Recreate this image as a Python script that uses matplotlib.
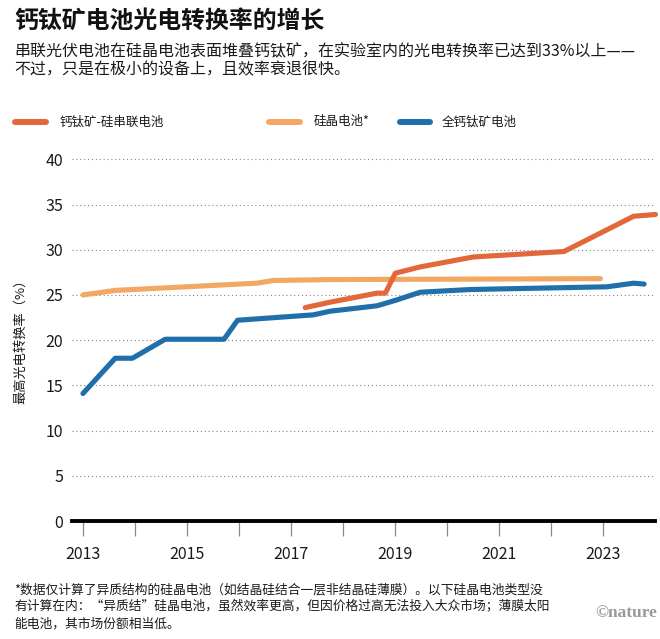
import matplotlib
matplotlib.use("Agg")
import matplotlib.pyplot as plt
from matplotlib.lines import Line2D

plt.rcParams['font.family'] = ['Noto Sans CJK SC', 'DejaVu Sans']

# ---- data ----
title = "钙钛矿电池光电转换率的增长"
subtitle = ["串联光伏电池在硅晶电池表面堆叠钙钛矿，在实验室内的光电转换率已达到33%以上——",
            "不过，只是在极小的设备上，且效率衰退很快。"]
footnote = ["*数据仅计算了异质结构的硅晶电池（如结晶硅结合一层非结晶硅薄膜）。以下硅晶电池类型没",
            "有计算在内：“异质结”硅晶电池，虽然效率更高，但因价格过高无法投入大众市场；薄膜太阳",
            "能电池，其市场份额相当低。"]
series_names = ["钙钛矿-硅串联电池", "硅晶电池*", "全钙钛矿电池"]

tandem_x = [2017.27, 2017.75, 2018.65, 2018.81, 2019.0, 2019.48, 2020.5, 2022.24, 2023.58, 2024.0]
tandem_y = [23.6, 24.2, 25.2, 25.2, 27.4, 28.1, 29.2, 29.8, 33.7, 33.9]

silicon_x = [2013.0, 2013.62, 2016.34, 2016.66, 2017.75, 2022.94]
silicon_y = [25.0, 25.5, 26.3, 26.6, 26.7, 26.8]

perov_x = [2013.0, 2013.62, 2013.95, 2014.58, 2015.71, 2015.97, 2017.43, 2017.75,
           2018.65, 2019.03, 2019.48, 2020.44, 2023.07, 2023.58, 2023.78]
perov_y = [14.1, 18.0, 18.0, 20.1, 20.1, 22.2, 22.8, 23.2,
           23.8, 24.45, 25.3, 25.6, 25.9, 26.3, 26.2]

year_ticks = list(range(2013, 2024))
year_labels = [str(y) if y % 2 == 1 else "" for y in year_ticks]
y_ticks = [0, 5, 10, 15, 20, 25, 30, 35, 40]
y_label = "最高光电转换率（%）"

colors = ["#E2673A", "#F2A862", "#1F6FAA"]

# ---- figure ----
W, H = 660, 639
fig = plt.figure(figsize=(W / 100, H / 100), dpi=100)

def fx(px):
    return px / W

def fy(py):
    return 1 - py / H

ax = fig.add_axes([fx(71.5), fy(521), fx(655) - fx(71.5), fy(159.3) - fy(521)])
ax.set_xlim(2012.78, 2023.99)
ax.set_ylim(0, 40)

lw = 3.7
ax.plot(silicon_x, silicon_y, color=colors[1], lw=lw, solid_capstyle='round',
        solid_joinstyle='round', clip_on=False, zorder=3)
ax.plot(perov_x, perov_y, color=colors[2], lw=lw, solid_capstyle='round',
        solid_joinstyle='round', clip_on=False, zorder=4)
ax.plot(tandem_x, tandem_y, color=colors[0], lw=lw, solid_capstyle='round',
        solid_joinstyle='round', clip_on=False, zorder=5)

for s in ['top', 'right', 'left']:
    ax.spines[s].set_visible(False)
ax.spines['bottom'].set_linewidth(2.8)
ax.spines['bottom'].set_color('black')
ax.spines['bottom'].set_zorder(6)

ax.set_yticks(y_ticks)
ax.set_yticklabels([str(v) for v in y_ticks])
ax.tick_params(axis='y', length=0, pad=6, labelsize=11.5, labelcolor='#1a1a1a')
ax.yaxis.grid(True, linestyle=(0, (1, 2.5)), color='#808080', linewidth=0.8)
ax.set_axisbelow(True)

ax.set_xticks(year_ticks)
ax.set_xticklabels(year_labels)
ax.tick_params(axis='x', length=11, width=0.9, color='#8a8a8a', pad=7,
               labelsize=11.5, labelcolor='#1a1a1a')

fig.text(fx(21), fy(338), y_label, rotation=90, ha='center', va='center',
         fontsize=9.5, color='#1a1a1a')

# title and subtitle
fig.text(fx(14), fy(21), title, ha='left', va='center', fontsize=17.2,
         fontweight='heavy', color='#111111')
for i, line in enumerate(subtitle):
    fig.text(fx(14), fy(52 + 18 * i), line, ha='left', va='center',
             fontsize=11.5, color='#1a1a1a')

# legend
leg = [(15, 46, 60), (269, 300, 314), (400, 430, 442)]
for (x0, x1, xt), c, name in zip(leg, colors, series_names):
    fig.add_artist(Line2D([fx(x0), fx(x1)], [fy(121.7), fy(121.7)], color=c,
                          lw=4.3, solid_capstyle='round', transform=fig.transFigure))
    fig.text(fx(xt), fy(121.7), name, ha='left', va='center', fontsize=9,
             color='#1a1a1a')

# footnote
for i, line in enumerate(footnote):
    fig.text(fx(14), fy(590 + 17 * i), line, ha='left', va='center',
             fontsize=9.2, color='#1a1a1a')

fig.text(fx(657), fy(613), "©nature", ha='right', va='center', fontsize=12.5,
         fontweight='bold', color='#9a9a9a', family=['Liberation Serif', 'DejaVu Serif'])

fig.savefig("out.png", dpi=100)
